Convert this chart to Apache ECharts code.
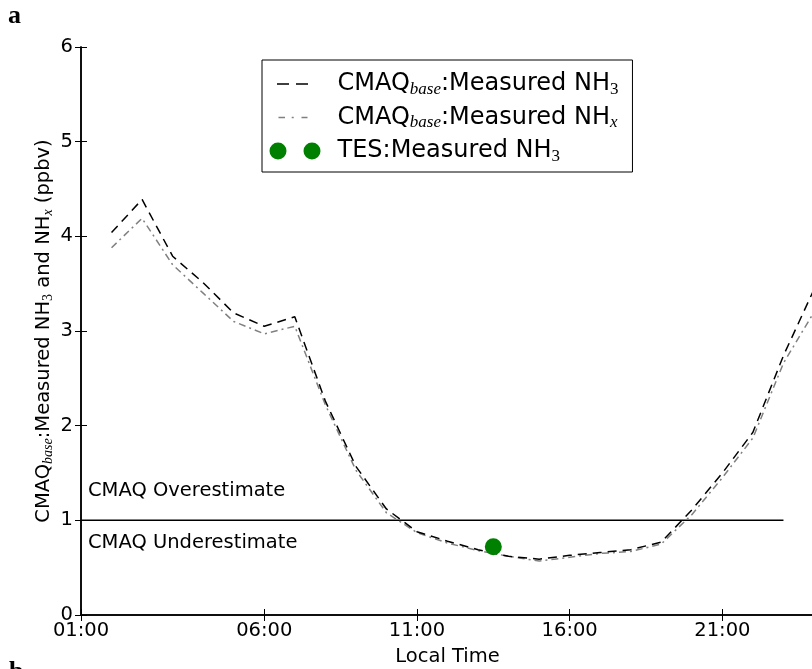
<!DOCTYPE html>
<html>
<head>
<meta charset="utf-8">
<script src="https://cdn.jsdelivr.net/npm/echarts@6/dist/echarts.min.js"></script>
<style>
  html, body { margin: 0; padding: 0; background: #fff; }
  #chart { width: 812px; height: 669px; }
</style>
</head>
<body>
<div id="chart"></div>
<script>
// Local hour of each hourly model sample
const hours = [1, 2, 3, 4, 5, 6, 7, 8, 9, 10, 11, 12, 13, 14, 15, 16, 17, 18, 19, 20, 21, 22, 23, 24];
// CMAQ_base : measured NH3 ratio
const ratioNH3 = [4.04, 4.39, 3.79, 3.51, 3.19, 3.05, 3.15, 2.26, 1.57, 1.12, 0.88, 0.78, 0.69, 0.62, 0.59, 0.63, 0.66, 0.69, 0.77, 1.11, 1.50, 1.93, 2.74, 3.44];
// CMAQ_base : measured NHx ratio
const ratioNHx = [3.88, 4.19, 3.70, 3.40, 3.10, 2.97, 3.05, 2.22, 1.53, 1.08, 0.87, 0.76, 0.68, 0.62, 0.57, 0.61, 0.65, 0.67, 0.75, 1.06, 1.45, 1.87, 2.66, 3.20];
// TES overpass ratio
const tesHours = [13.5];
const tesRatio = [0.72];
// Ratio = 1 reference line
const refHours = [0, 23];
const refRatio = [1, 1];
// Time-axis ticks and their labels
const xTickValues = [0, 6, 11, 16, 21];
const xTickLabels = ['01:00', '06:00', '11:00', '16:00', '21:00'];
// Ratio-axis range
const yMin = 0, yMax = 6, yStep = 1;

const seriesNames = ['CMAQ_base:Measured NH3', 'CMAQ_base:Measured NHx', 'TES:Measured NH3'];
const legendText = {
  'CMAQ_base:Measured NH3': '{t|CMAQ}{it|base}{t|:Measured NH}{rm|3}',
  'CMAQ_base:Measured NHx': '{t|CMAQ}{it|base}{t|:Measured NH}{it|x}',
  'TES:Measured NH3': '{t|TES:Measured NH}{rm|3}'
};

const SANS = 'DejaVu Sans';
const SERIF = 'Liberation Serif';
const FS = 19.5;
const GREEN = '#008000';

const pairs = (xs, ys) => xs.map((x, i) => [x, ys[i]]);

const chart = echarts.init(document.getElementById('chart'), null, { renderer: 'canvas' });

const tickStyle = { color: '#000', width: 1 };
const lineAxis = { show: true, lineStyle: { color: '#000', width: 1.5 } };

chart.setOption({
  animation: false,
  backgroundColor: '#fff',
  grid: { left: 81, top: 47, right: -2, bottom: 54, containLabel: false, outerBoundsMode: 'none' },
  xAxis: [
    {
      type: 'value', min: 0, max: 24, position: 'bottom',
      axisLine: lineAxis,
      axisTick: { show: true, inside: true, length: 6, customValues: xTickValues, lineStyle: tickStyle },
      axisLabel: {
        customValues: xTickValues,
        formatter: v => xTickLabels[xTickValues.indexOf(v)],
        color: '#000', fontFamily: SANS, fontSize: FS, margin: 6
      },
      splitLine: { show: false },
      name: 'Local Time', nameLocation: 'middle', nameGap: 32, nameMoveOverlap: false,
      nameTextStyle: { color: '#000', fontFamily: SANS, fontSize: FS, lineHeight: 20 }
    },
    {
      type: 'value', min: 0, max: 24, position: 'top',
      axisLine: lineAxis,
      axisTick: { show: true, inside: true, length: 6, customValues: xTickValues, lineStyle: tickStyle },
      axisLabel: { show: false },
      splitLine: { show: false }
    }
  ],
  yAxis: [
    {
      type: 'value', min: yMin, max: yMax, interval: yStep, position: 'left',
      axisLine: lineAxis,
      axisTick: { show: true, inside: true, length: 6, lineStyle: tickStyle },
      axisLabel: { color: '#000', fontFamily: SANS, fontSize: FS, margin: 8 },
      splitLine: { show: false },
      name: '{t|CMAQ}{it|base}{t|:Measured NH}{rm|3}{t| and NH}{it|x}{t| (ppbv)}',
      nameLocation: 'middle', nameRotate: 90, nameGap: 26, nameMoveOverlap: false,
      nameTextStyle: {
        rich: {
          t: { fontFamily: SANS, fontSize: FS, lineHeight: 22, color: '#000' },
          it: { fontFamily: SERIF, fontStyle: 'italic', fontSize: 14, lineHeight: 13, verticalAlign: 'bottom', color: '#000' },
          rm: { fontFamily: SERIF, fontSize: 14, lineHeight: 13, verticalAlign: 'bottom', color: '#000' }
        }
      }
    },
    {
      type: 'value', min: yMin, max: yMax, interval: yStep, position: 'right',
      axisLine: lineAxis,
      axisTick: { show: true, inside: true, length: 6, lineStyle: tickStyle },
      axisLabel: { show: false },
      splitLine: { show: false }
    }
  ],
  legend: {
    orient: 'vertical', left: 262, top: 60,
    padding: [12, 14, 7, 7.5],
    itemGap: 7.5, itemWidth: 63, itemHeight: 18,
    backgroundColor: '#fff', borderColor: '#000', borderWidth: 1, borderRadius: 0,
    selectedMode: false,
    itemStyle: { borderWidth: 0, opacity: 1 },
    data: [
      { name: seriesNames[0], icon: 'path://M0 0L0 0M63 18L63 18M7.5 8.25H19.5V9.75H7.5ZM26.5 8.25H38.5V9.75H26.5Z' },
      { name: seriesNames[1], icon: 'path://M0 0L0 0M63 18L63 18M9 8.25H15.5V9.75H9ZM22.2 8.25H24.2V9.75H22.2ZM32 8.25H38V9.75H32Z' },
      { name: seriesNames[2], icon: 'path://M0 0L0 0M63 18L63 18M0 9A8.5 8.5 0 1 0 17 9A8.5 8.5 0 1 0 0 9ZM34 9A8.5 8.5 0 1 0 51 9A8.5 8.5 0 1 0 34 9Z' }
    ],
    formatter: name => legendText[name],
    textStyle: {
      color: '#000',
      rich: {
        t: { fontFamily: SANS, fontSize: 24, lineHeight: 28, color: '#000' },
        it: { fontFamily: SERIF, fontStyle: 'italic', fontSize: 17, lineHeight: 16, verticalAlign: 'bottom', color: '#000' },
        rm: { fontFamily: SERIF, fontSize: 17, lineHeight: 16, verticalAlign: 'bottom', color: '#000' }
      }
    }
  },
  series: [
    {
      name: 'ratio = 1', type: 'line', data: pairs(refHours, refRatio),
      symbol: 'none', silent: true, z: 1,
      lineStyle: { color: '#000', width: 1.5, type: 'solid' }, color: '#000'
    },
    {
      name: seriesNames[0], type: 'line', data: pairs(hours, ratioNH3),
      symbol: 'none', z: 3, color: '#000',
      lineStyle: { color: '#000', width: 1.5, type: [9, 6] }
    },
    {
      name: seriesNames[1], type: 'line', data: pairs(hours, ratioNHx),
      symbol: 'none', z: 2, color: '#808080',
      lineStyle: { color: '#808080', width: 1.5, type: [7, 4, 2, 4] }
    },
    {
      name: seriesNames[2], type: 'scatter', data: pairs(tesHours, tesRatio),
      symbol: 'circle', symbolSize: 17, z: 4, color: GREEN,
      itemStyle: { color: GREEN, opacity: 1 }
    }
  ],
  graphic: [
    { type: 'text', left: 88, top: 481, silent: true,
      style: { text: 'CMAQ Overestimate', fill: '#000', font: FS + 'px "DejaVu Sans"' } },
    { type: 'text', left: 88, top: 533, silent: true,
      style: { text: 'CMAQ Underestimate', fill: '#000', font: FS + 'px "DejaVu Sans"' } },
    { type: 'text', left: 8, top: 3, silent: true,
      style: { text: 'a', fill: '#000', font: 'bold 26px "Liberation Serif"' } },
    { type: 'text', left: 9, top: 659, silent: true,
      style: { text: 'b', fill: '#000', font: 'bold 26px "Liberation Serif"' } }
  ]
});
</script>
</body>
</html>
